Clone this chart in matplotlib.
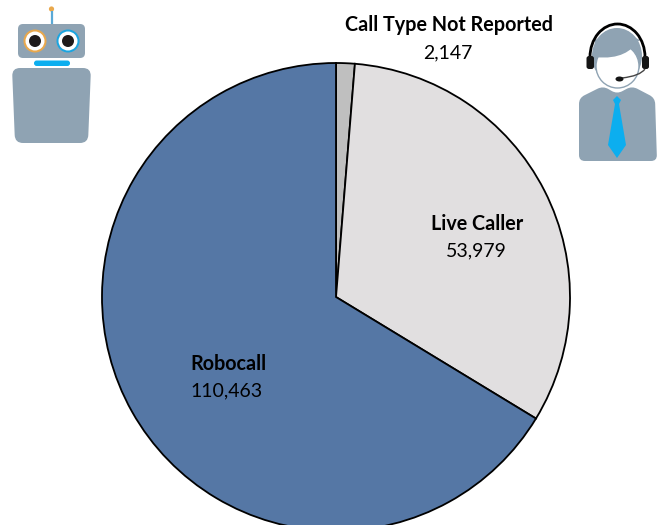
import math
import matplotlib
matplotlib.use("Agg")
import matplotlib.pyplot as plt
from matplotlib.patches import Circle, Ellipse, FancyBboxPatch, Polygon, Arc, PathPatch
from matplotlib.path import Path

categories = ["Call Type Not Reported", "Live Caller", "Robocall"]
values = [2147, 53979, 110463]
colors = ["#BFBFBF", "#E1DFE0", "#5577A5"]

plt.rcParams['font.family'] = ['Lato', 'DejaVu Sans']
W, H = 663, 525
fig = plt.figure(figsize=(W / 100, H / 100), dpi=100, facecolor="white")

ax = fig.add_axes([0, 0, 1, 1])
ax.pie(values, colors=colors, startangle=90, counterclock=False,
       center=(336, H - 297), radius=234,
       wedgeprops=dict(edgecolor="black", linewidth=1.3), frame=True)
ax.set_xlim(0, W)
ax.set_ylim(0, H)
ax.set_aspect("equal")
ax.axis("off")

ov = fig.add_axes([0, 0, 1, 1], zorder=3)
ov.set_xlim(0, W)
ov.set_ylim(H, 0)
ov.axis("off")
ov.patch.set_alpha(0)

label_pos = [(449, 25, 53), (477.5, 224.5, 251), (228.5, 364, 390.5)]
for cat, val, (x, y1, y2) in zip(categories, values, label_pos):
    ov.text(x, y1, cat, ha="center", va="center", fontsize=14.2, fontweight="bold", color="black")
    ov.text(x - 1.5, y2, f"{val:,}", ha="center", va="center", fontsize=14, color="black")

GREY = "#8FA3B3"
BLUE = "#0CAEEF"
ORANGE = "#E9A84C"

def rrect(x0, y0, x1, y1, r, fc):
    ov.add_patch(FancyBboxPatch((x0 + r, y0 + r), x1 - x0 - 2 * r, y1 - y0 - 2 * r,
                                boxstyle=f"round,pad={r},rounding_size={r}", fc=fc, ec="none"))

def smooth(pts, fc, radius):
    """Closed polygon whose corners are rounded by a fixed pixel radius."""
    n = len(pts)
    verts, codes = [], []
    for i in range(n):
        p0 = pts[i - 1]; p1 = pts[i]; p2 = pts[(i + 1) % n]
        d0 = math.dist(p0, p1); d2 = math.dist(p1, p2)
        r0 = min(radius, d0 / 2); r2 = min(radius, d2 / 2)
        a = (p1[0] + (p0[0] - p1[0]) * r0 / d0, p1[1] + (p0[1] - p1[1]) * r0 / d0)
        b = (p1[0] + (p2[0] - p1[0]) * r2 / d2, p1[1] + (p2[1] - p1[1]) * r2 / d2)
        verts += [a, p1, b]
        codes += [Path.MOVETO if i == 0 else Path.LINETO, Path.CURVE3, Path.CURVE3]
    verts.append(verts[0]); codes.append(Path.CLOSEPOLY)
    ov.add_patch(PathPatch(Path(verts, codes), fc=fc, ec="none"))

# Robot
ov.plot([51.5, 51.5], [11, 24], color="#5AA9D6", lw=1.6, solid_capstyle="butt")
ov.add_patch(Circle((51.5, 9), 2.6, fc=ORANGE, ec="none"))
rrect(18, 24, 85, 58, 5, GREY)
for cx, ring in [(35, ORANGE), (68, "#1CA5E0")]:
    ov.add_patch(Circle((cx, 41), 11.5, fc=ring, ec="none"))
    ov.add_patch(Circle((cx, 41), 9.5, fc="white", ec="none"))
    ov.add_patch(Circle((cx, 41), 6, fc="#1E1A1A", ec="none"))
rrect(34, 60.5, 70, 66, 2.7, BLUE)
smooth([(12, 68), (91, 68), (88, 143), (15, 143)], GREY, 8)

# Agent
smooth([(579, 98), (603, 86), (617, 94), (632, 86), (655, 98), (657, 161), (579, 161)], GREY, 6)
ov.add_patch(Ellipse((617, 56), 50, 56, fc=GREY, ec="none"))
ov.add_patch(Ellipse((617.5, 66), 43, 44, fc="white", ec=GREY, lw=1))
# hair fringe over the top of the face
ov.add_patch(PathPatch(Path(
    [(595, 57), (620, 60), (632, 50), (636, 43), (640, 40), (617, 30), (595, 40), (595, 57)],
    [Path.MOVETO, Path.CURVE4, Path.CURVE4, Path.CURVE4, Path.LINETO, Path.LINETO, Path.LINETO, Path.CLOSEPOLY]),
    fc=GREY, ec="none"))
# headset
ov.add_patch(Arc((617.5, 57), 55, 66, theta1=180, theta2=360, color="black", lw=2))
rrect(586.5, 56, 594, 69, 2.5, "#151515")
rrect(642, 56, 649, 69, 2.5, "#151515")
ov.add_patch(PathPatch(Path([(645, 69), (640, 76), (622, 78)],
                            [Path.MOVETO, Path.CURVE3, Path.CURVE3]),
                       fc="none", ec="#444444", lw=1))
ov.add_patch(Ellipse((619.5, 79), 8, 5, fc="#151515", ec="none"))
# tie
ov.add_patch(Polygon([(617, 96), (621, 100), (619, 104), (626, 145), (617, 158),
                      (608, 145), (615, 104), (613, 100)], fc=BLUE, ec="none"))

fig.savefig("out.png", dpi=100, facecolor="white")
